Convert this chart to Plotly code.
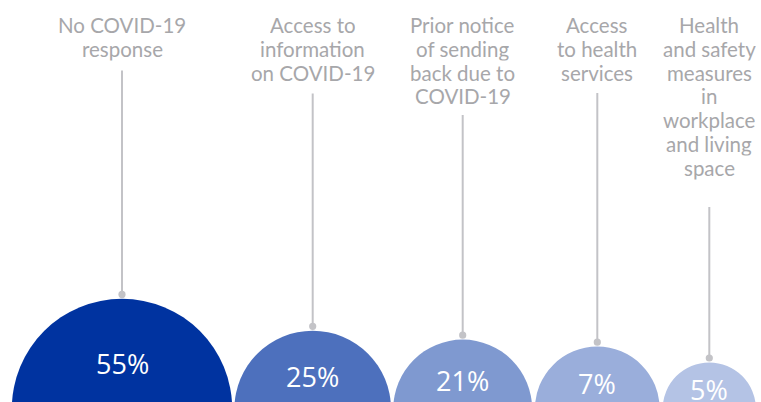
import plotly.graph_objects as go

# Survey responses: share of respondents per item
categories = [
    "No COVID-19<br>response",
    "Access to<br>information<br>on COVID-19",
    "Prior notice<br>of sending<br>back due to<br>COVID-19",
    "Access<br>to health<br>services",
    "Health<br>and safety<br>measures<br>in<br>workplace<br>and living<br>space",
]
values = [55, 25, 21, 7, 5]

# Layout of the bubbles (pixel space of the 761x402 canvas)
centers_x = [122, 312.7, 462.7, 597.3, 709.3]
radii = [110.2, 78.3, 69.4, 62.4, 46.6]
center_y = 409
stem_tops = [70.5, 93.5, 115, 93, 207]
colors = ["#0033a0", "#4d70bd", "#7f99d0", "#9aaedb", "#b4c3e5"]

W, H = 761, 402
LABEL_COLOR = "#a7a7aa"
STEM_COLOR = "#c3c3c7"
LEADING = 23.8

fig = go.Figure()
shapes = []
annotations = []

for cat, val, cx, r, top_stem, col in zip(categories, values, centers_x, radii, stem_tops, colors):
    top = center_y - r
    # bubble
    shapes.append(dict(type="circle", xref="x", yref="y",
                       x0=cx - r, x1=cx + r, y0=center_y - r, y1=center_y + r,
                       fillcolor=col, line=dict(width=0), layer="below"))
    # stem and knob
    dot_y = top - 4.4
    shapes.append(dict(type="line", xref="x", yref="y",
                       x0=cx, x1=cx, y0=top_stem, y1=dot_y,
                       line=dict(color=STEM_COLOR, width=2)))
    shapes.append(dict(type="circle", xref="x", yref="y",
                       x0=cx - 3.6, x1=cx + 3.6, y0=dot_y - 3.6, y1=dot_y + 3.6,
                       fillcolor=STEM_COLOR, line=dict(width=0)))
    # value label
    annotations.append(dict(x=cx, y=top + 0.585 * r, xref="x", yref="y",
                            text=f"{val}%", showarrow=False,
                            xanchor="center", yanchor="middle",
                            font=dict(family="Open Sans", size=27, color="white")))
    # category label, one annotation per line for tight leading
    for k, line in enumerate(cat.split("<br>")):
        annotations.append(dict(x=cx, y=24.5 + LEADING * k, xref="x", yref="y",
                                text=line, showarrow=False, height=LEADING - 0.4,
                                xanchor="center", yanchor="middle",
                                font=dict(family="Lato", size=20.5, color=LABEL_COLOR)))

fig.update_layout(
    width=W, height=H,
    margin=dict(l=0, r=0, t=0, b=0),
    paper_bgcolor="white", plot_bgcolor="white",
    xaxis=dict(range=[0, W], visible=False, fixedrange=True),
    yaxis=dict(range=[H, 0], visible=False, fixedrange=True),
    shapes=shapes, annotations=annotations,
    showlegend=False,
)

fig.write_html("out.html")
